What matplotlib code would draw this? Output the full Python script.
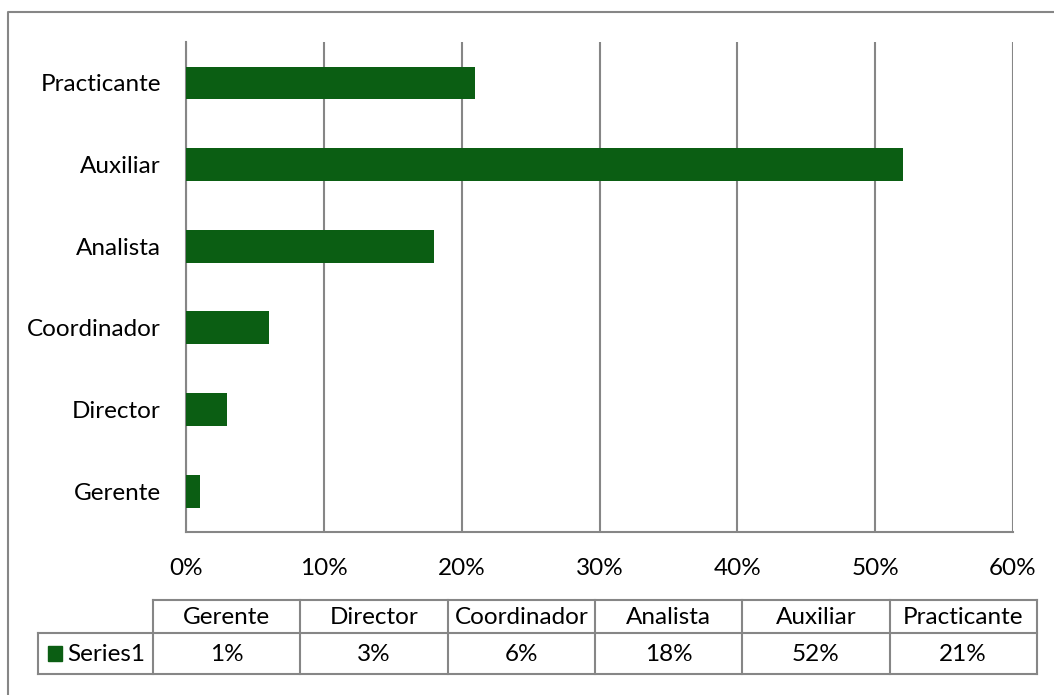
import matplotlib
matplotlib.use('Agg')
import matplotlib.pyplot as plt
from matplotlib.patches import Rectangle
from matplotlib.lines import Line2D

# data
categories = ['Gerente', 'Director', 'Coordinador', 'Analista', 'Auxiliar', 'Practicante']
values = [1, 3, 6, 18, 52, 21]
series_name = 'Series1'
x_ticks = [0, 10, 20, 30, 40, 50, 60]

bar_color = '#0b5e13'
grid_color = '#868686'
W, H = 1054, 695

plt.rcParams['font.family'] = ['Lato', 'DejaVu Sans']
fs = 17.5

fig = plt.figure(figsize=(W / 100, H / 100), dpi=100)

def fx(px):
    return px / W

def fy(py):
    return 1 - py / H

# outer chart frame (only left/top edges are visible)
fig.add_artist(Line2D([fx(8), fx(8), fx(W + 5)], [fy(H + 5), fy(12), fy(12)],
                      color=grid_color, lw=1.5, transform=fig.transFigure))

ax = fig.add_axes([fx(186), fy(532), fx(1013) - fx(186), fy(42) - fy(532)])
ax.barh(range(len(categories)), values, height=0.4, color=bar_color, zorder=3)
ax.set_xlim(0, 60)
ax.set_ylim(-0.5, len(categories) - 0.5)
ax.set_xticks(x_ticks)
ax.set_xticklabels([f'{t}%' for t in x_ticks], fontsize=fs)
ax.set_yticks(range(len(categories)))
ax.set_yticklabels(categories, fontsize=fs)
ax.tick_params(axis='both', length=0)
ax.tick_params(axis='y', pad=18)
ax.tick_params(axis='x', pad=19)
ax.grid(axis='x', color=grid_color, lw=1.5, zorder=0)
for s in ['top', 'right']:
    ax.spines[s].set_visible(False)
for s in ['left', 'bottom']:
    ax.spines[s].set_color(grid_color)
    ax.spines[s].set_linewidth(1.5)

# data table below the chart
col_edges = [153 + i * 147.3 for i in range(len(categories) + 1)]
top, mid, bot = 600, 633, 674
left = 38

def hline(x0, x1, y):
    fig.add_artist(Line2D([fx(x0), fx(x1)], [fy(y), fy(y)], color=grid_color, lw=1.5,
                          transform=fig.transFigure))

def vline(x, y0, y1):
    fig.add_artist(Line2D([fx(x), fx(x)], [fy(y0), fy(y1)], color=grid_color, lw=1.5,
                          transform=fig.transFigure))

hline(col_edges[0], col_edges[-1], top)
hline(left, col_edges[-1], mid)
hline(left, col_edges[-1], bot)
vline(left, mid, bot)
for x in col_edges:
    vline(x, top, bot)

for i, (cat, val) in enumerate(zip(categories, values)):
    cx = (col_edges[i] + col_edges[i + 1]) / 2
    fig.text(fx(cx), fy((top + mid) / 2 + 1), cat, ha='center', va='center', fontsize=fs)
    fig.text(fx(cx), fy((mid + bot) / 2 + 1), f'{val}%', ha='center', va='center', fontsize=fs)

fig.add_artist(Rectangle((fx(48), fy(661)), fx(14), fy(646) - fy(661), color=bar_color,
                         transform=fig.transFigure))
fig.text(fx(67), fy((mid + bot) / 2 + 1), series_name, ha='left', va='center', fontsize=fs)

fig.savefig('out.png', dpi=100)
